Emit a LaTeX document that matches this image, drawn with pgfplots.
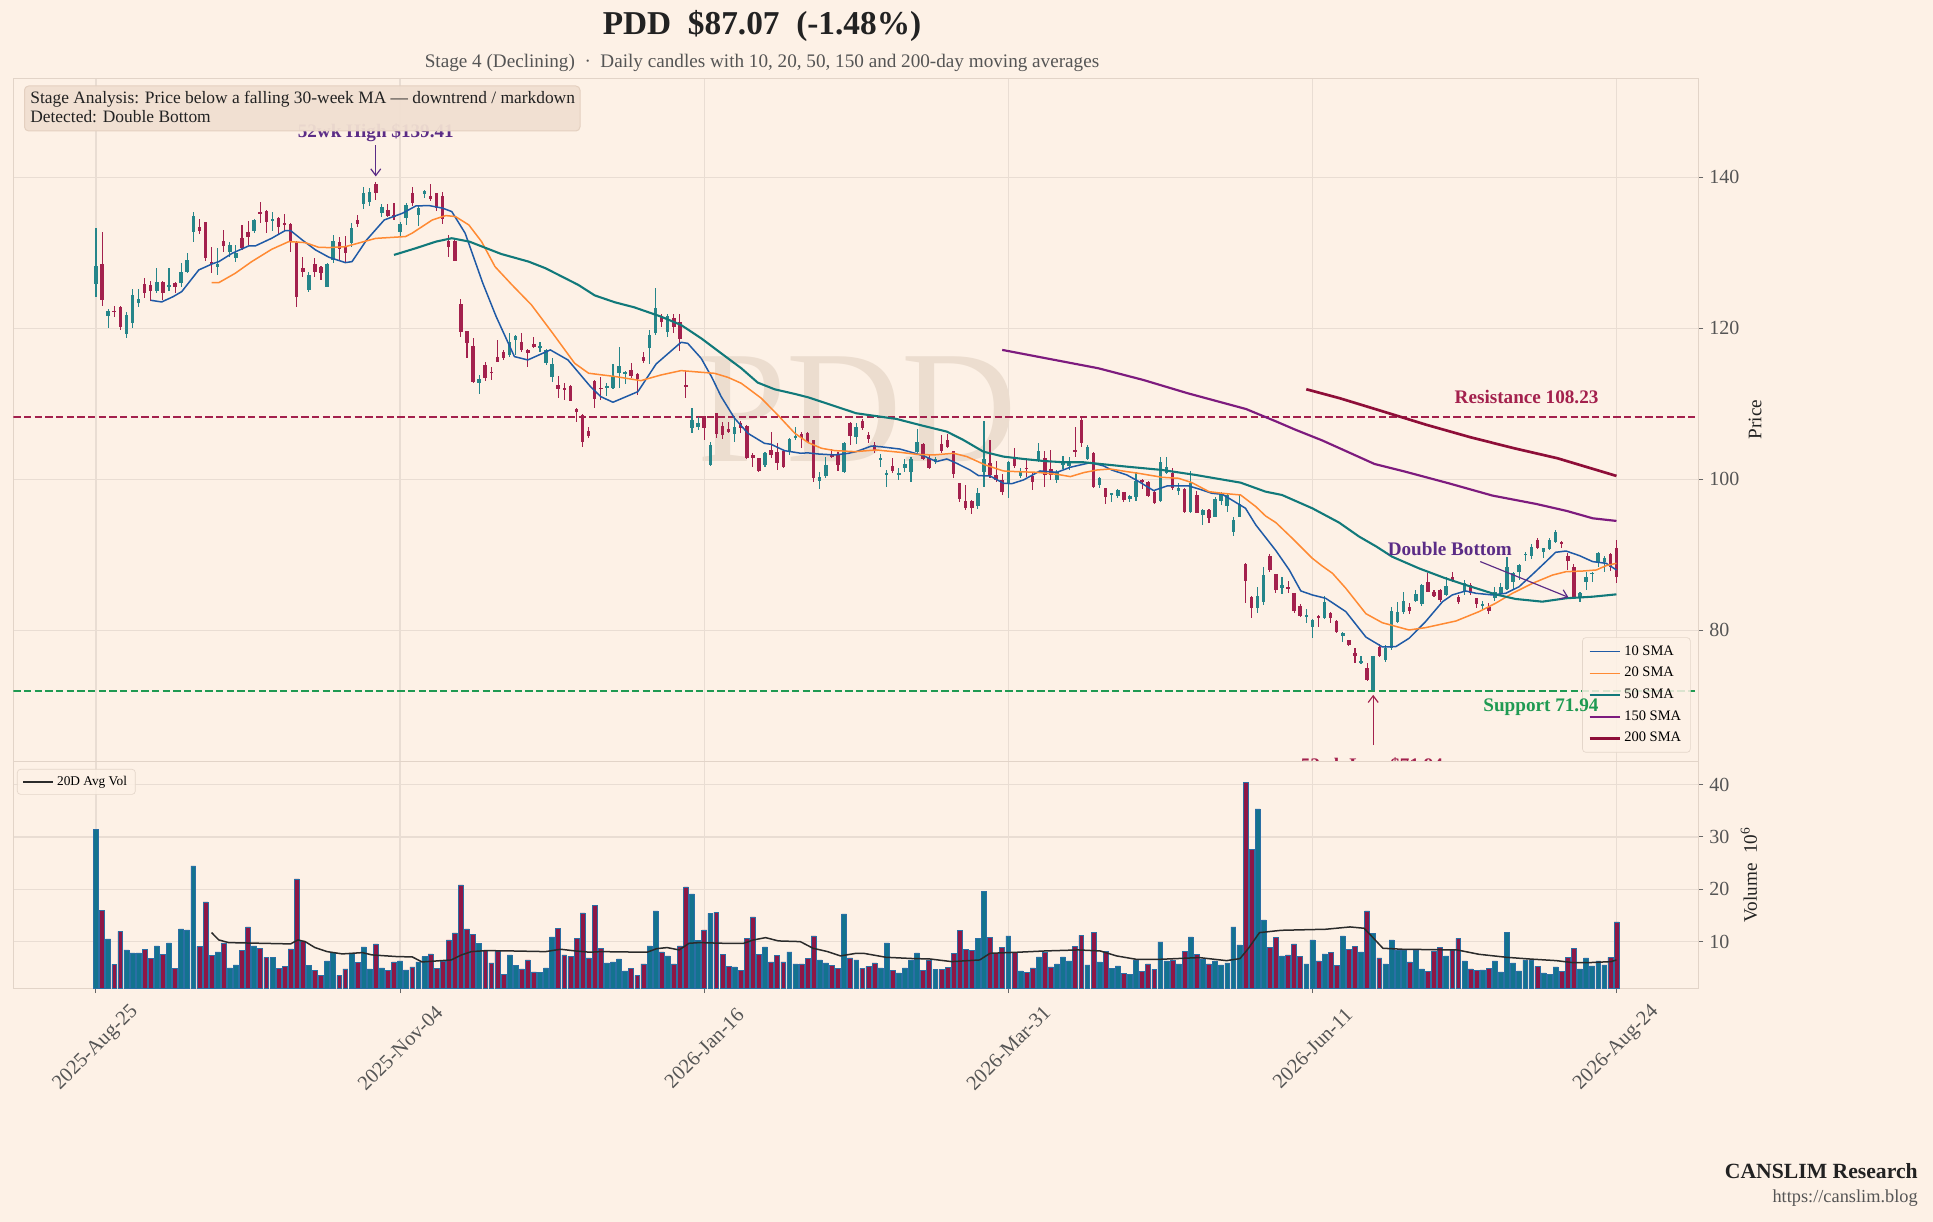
\documentclass[border=0pt]{standalone}
\usepackage{pgfplots}
\pgfplotsset{compat=1.18}
\usepackage{pgfplotstable}
\usepackage{fontspec}
\setmainfont{Liberation Serif}
\usetikzlibrary{arrows.meta}
\definecolor{bgc}{HTML}{FDF1E6}
\definecolor{gridc}{HTML}{E9DDD3}
\definecolor{spinec}{HTML}{E2D4C8}
\definecolor{tickc}{HTML}{666666}
\definecolor{tickl}{HTML}{555555}
\definecolor{upc}{HTML}{26868A}
\definecolor{dnc}{HTML}{A3214D}
\definecolor{vup}{HTML}{13738F}
\definecolor{vdn}{HTML}{8E1746}
\definecolor{vedge}{HTML}{2A6FA5}
\definecolor{s10}{HTML}{1F5AA6}
\definecolor{s20}{HTML}{FF8A33}
\definecolor{s50}{HTML}{11797A}
\definecolor{s150}{HTML}{7D1B7E}
\definecolor{s200}{HTML}{8E0E38}
\definecolor{resc}{HTML}{A3214D}
\definecolor{supc}{HTML}{1F9A52}
\definecolor{purp}{HTML}{5B2C86}
\definecolor{wmc}{HTML}{ECDDCF}
\definecolor{boxf}{HTML}{F1E0D1}
\definecolor{boxd}{HTML}{E4D0C0}
\definecolor{darkt}{HTML}{222222}
\definecolor{grayt}{HTML}{555555}
\definecolor{avgc}{HTML}{2B2B2B}
\definecolor{legc}{HTML}{E4D6CA}

\pgfplotstableread{
k o h l c v
0 125.80 133.24 124.19 128.25 31.50
1 128.50 132.80 123.00 123.75 16.00
2 121.67 122.50 120.00 122.33 10.52
3 122.30 123.00 121.50 122.20 5.68
4 122.86 123.00 119.80 120.20 11.98
5 119.30 122.10 118.75 121.80 8.42
6 120.75 125.16 120.00 124.40 7.85
7 123.40 125.16 122.80 123.90 7.85
8 125.87 126.60 123.97 124.63 8.55
9 125.73 126.20 123.65 124.98 6.83
10 124.98 127.94 124.63 126.09 9.18
11 126.13 126.20 123.75 124.63 7.59
12 125.60 127.94 124.94 125.70 9.76
13 126.00 126.13 124.70 125.40 4.92
14 126.04 128.60 125.50 127.41 12.43
15 127.45 129.90 127.28 129.05 12.24
16 132.80 135.36 131.47 134.87 24.45
17 133.42 134.43 132.44 132.90 9.12
18 134.08 134.10 128.96 129.27 17.58
19 128.78 130.72 127.28 128.50 7.40
20 128.16 130.60 127.06 128.50 8.04
21 131.56 133.00 130.15 130.90 9.76
22 130.06 131.47 129.49 131.03 4.98
23 129.35 131.03 128.82 129.93 5.56
24 131.92 133.68 130.37 130.59 8.36
25 132.75 134.25 130.99 132.14 12.81
26 132.93 134.43 132.58 134.34 9.18
27 135.40 136.77 133.90 135.18 8.74
28 135.54 135.60 132.58 134.12 7.02
29 134.30 135.36 132.93 134.40 7.02
30 134.60 134.78 132.36 133.46 4.92
31 133.90 135.14 133.02 133.80 5.30
32 133.81 133.99 130.15 131.47 8.61
33 131.47 131.50 122.86 124.19 21.97
34 128.03 129.49 126.75 127.50 10.14
35 125.07 127.50 124.85 127.06 5.49
36 128.47 129.27 126.84 127.50 4.54
37 128.16 128.20 126.40 127.28 3.59
38 125.51 128.60 125.50 128.51 6.32
39 129.05 132.36 128.60 131.56 7.98
40 131.47 132.14 129.05 130.46 3.59
41 130.72 132.20 128.82 130.02 4.79
42 131.25 134.00 130.80 133.24 7.72
43 134.34 134.96 133.37 133.80 6.07
44 136.46 138.67 135.76 137.88 8.99
45 136.77 138.54 136.20 138.10 4.79
46 139.11 139.41 136.99 137.96 9.57
47 135.30 136.46 134.70 136.00 4.98
48 135.67 136.46 134.70 134.80 4.54
49 135.00 136.64 134.35 134.80 6.13
50 132.80 134.10 132.14 133.80 6.32
51 134.56 136.64 133.68 136.33 4.60
52 137.88 138.76 136.20 136.64 5.17
53 135.00 136.20 133.55 135.90 6.13
54 137.75 138.25 137.20 138.20 7.15
55 137.50 139.11 136.90 137.08 7.66
56 137.88 137.97 135.58 135.89 4.92
57 137.52 138.10 133.80 134.43 6.20
58 131.60 132.36 129.40 130.80 10.33
59 131.60 131.70 128.90 128.96 11.66
60 123.20 123.84 118.90 119.55 20.83
61 119.64 119.70 116.00 118.00 12.43
62 117.66 118.67 112.71 112.84 11.35
63 112.71 113.80 111.30 113.28 9.63
64 115.14 115.58 113.02 113.37 8.29
65 114.20 114.92 113.15 114.10 5.94
66 116.15 118.50 115.50 115.58 8.10
67 116.90 117.10 115.80 116.00 3.78
68 116.47 119.40 116.15 118.20 7.47
69 118.45 119.10 116.47 118.98 5.43
70 118.23 119.40 116.90 117.13 4.79
71 117.13 117.20 114.83 116.68 6.51
72 117.92 118.90 117.35 117.57 4.22
73 117.35 118.23 116.90 117.66 4.16
74 115.45 117.20 115.14 117.13 4.98
75 113.50 116.00 112.93 115.27 10.90
76 112.49 113.68 110.70 111.92 12.55
77 112.00 112.71 110.50 111.90 7.47
78 112.36 112.50 110.30 110.40 7.21
79 109.26 109.40 107.60 108.96 10.65
80 108.50 108.60 104.30 104.98 15.48
81 106.44 106.97 105.43 105.74 6.89
82 113.06 113.10 109.40 110.59 16.94
83 112.10 113.60 110.50 112.00 8.74
84 112.20 112.70 110.96 112.30 5.94
85 112.13 115.27 111.90 113.50 6.13
86 114.12 117.48 112.05 115.00 6.70
87 113.90 114.34 112.62 114.20 4.41
88 114.47 115.45 113.37 113.68 4.92
89 113.94 114.03 111.16 113.24 3.59
90 116.15 116.90 115.36 115.67 5.75
91 117.34 119.77 115.27 119.11 9.18
92 119.42 125.30 119.11 122.64 15.86
93 121.63 121.90 120.21 120.88 8.04
94 119.55 121.85 118.90 121.63 7.28
95 121.32 121.90 119.33 120.13 5.75
96 120.88 121.90 117.03 118.54 9.18
97 112.40 114.40 110.72 112.30 20.44
98 106.84 109.48 106.08 107.85 19.11
99 106.97 108.20 106.53 107.50 10.27
100 108.38 108.40 105.20 106.75 12.24
101 101.89 104.98 101.80 104.54 15.42
102 108.73 108.82 105.42 105.95 15.61
103 107.06 107.63 105.30 105.90 7.59
104 106.60 107.60 106.18 106.30 5.30
105 106.00 108.07 104.98 106.97 5.17
106 107.40 107.70 106.10 106.75 4.54
107 107.06 107.20 102.70 102.77 10.65
108 103.20 103.50 101.67 102.77 14.72
109 102.77 102.80 101.00 101.05 7.59
110 101.89 103.66 101.67 103.44 8.99
111 103.88 106.30 102.77 103.20 6.13
112 103.66 104.76 101.23 102.11 7.40
113 103.75 103.80 101.50 101.58 6.13
114 103.66 105.42 103.20 105.30 8.04
115 105.60 106.97 105.20 105.70 5.75
116 105.99 106.30 104.10 105.42 5.75
117 106.17 106.30 104.76 104.98 6.83
118 105.20 105.25 99.68 100.13 11.09
119 99.82 101.00 98.67 100.26 6.51
120 100.43 102.90 100.13 101.89 5.94
121 103.35 103.97 102.77 102.90 5.49
122 103.20 103.66 101.14 101.89 4.92
123 101.00 104.98 100.88 104.85 15.29
124 107.50 107.63 104.54 105.73 6.89
125 105.56 107.41 104.67 106.97 6.51
126 107.72 107.94 106.53 106.75 4.92
127 105.86 106.30 104.76 105.29 5.30
128 104.54 104.98 103.44 103.88 5.94
129 102.56 103.30 101.67 102.86 4.99
130 100.57 101.23 99.02 100.88 9.76
131 101.76 102.78 100.79 101.10 4.54
132 100.57 101.45 99.90 100.88 4.03
133 101.54 102.69 100.92 102.03 4.99
134 101.01 103.00 99.70 102.69 6.51
135 103.57 106.66 103.44 104.98 7.85
136 104.67 104.76 102.56 102.69 4.54
137 102.78 103.30 101.36 101.54 6.51
138 102.33 103.00 101.98 102.69 4.73
139 104.67 105.87 103.44 103.75 4.73
140 105.20 105.96 104.10 104.32 5.11
141 103.75 103.80 100.22 100.66 7.78
142 99.47 99.50 96.95 97.39 12.17
143 97.13 99.25 95.93 96.16 8.55
144 97.13 97.26 95.36 96.24 8.36
145 96.50 98.80 96.02 98.23 10.65
146 100.92 107.72 99.02 102.69 19.62
147 102.11 105.20 100.22 100.57 10.84
148 100.57 102.42 99.60 99.90 7.78
149 99.90 100.66 97.92 98.37 8.93
150 99.47 102.42 97.57 102.24 11.09
151 102.64 104.10 101.54 101.76 7.91
152 100.48 101.54 100.22 101.00 4.41
153 101.50 102.78 100.35 101.40 4.16
154 100.48 100.92 98.58 99.60 4.99
155 102.42 104.76 102.33 103.75 7.09
156 102.86 103.75 99.02 100.57 7.98
157 101.36 103.88 99.90 100.57 5.18
158 99.90 101.23 99.47 100.92 5.75
159 101.89 103.13 101.36 102.33 7.09
160 101.76 103.00 101.23 102.42 6.32
161 103.88 106.88 103.00 103.66 9.12
162 107.85 108.16 104.32 104.76 11.22
163 102.69 104.54 102.56 104.23 5.56
164 103.44 103.57 98.80 99.03 11.79
165 99.30 100.35 98.80 100.13 6.13
166 98.80 98.85 96.68 97.70 8.10
167 98.00 98.14 97.04 98.10 4.92
168 97.83 98.65 97.57 98.58 5.37
169 98.27 98.36 96.95 97.26 3.97
170 97.35 97.92 97.04 97.79 3.78
171 97.61 101.01 97.17 99.82 6.51
172 99.90 99.99 98.67 99.70 4.35
173 99.69 99.75 97.61 97.79 5.75
174 98.36 98.58 96.68 96.82 4.73
175 97.17 103.00 97.00 102.30 9.95
176 100.80 102.90 100.70 101.60 6.32
177 100.79 101.45 98.58 98.80 6.51
178 98.50 99.47 97.92 98.80 5.75
179 98.67 98.80 95.49 95.71 8.17
180 95.71 101.14 95.58 99.55 10.90
181 97.92 98.49 95.49 95.58 7.59
182 95.27 96.00 93.95 95.93 6.70
183 95.93 96.00 94.17 94.83 5.75
184 95.05 97.61 94.96 97.35 6.32
185 97.17 98.36 96.60 98.05 5.56
186 96.46 98.14 95.71 97.92 5.94
187 93.06 95.05 92.49 94.61 12.81
188 95.05 97.92 94.96 96.73 9.37
189 88.78 88.85 83.66 86.57 40.42
190 84.45 84.50 81.59 82.99 27.63
191 82.99 85.78 82.33 84.54 35.33
192 83.79 88.34 83.35 87.32 14.15
193 89.84 90.11 87.77 87.99 8.93
194 87.46 87.50 84.90 85.34 10.84
195 85.56 87.10 84.81 86.00 7.28
196 85.70 86.57 84.98 85.50 7.47
197 84.90 84.98 82.25 82.60 9.57
198 83.26 83.48 81.81 81.89 7.21
199 81.85 82.78 81.01 81.95 5.75
200 80.48 81.45 78.94 81.36 10.33
201 81.89 82.03 80.48 81.58 6.32
202 81.58 84.54 81.45 83.79 7.66
203 82.33 82.40 80.92 81.58 7.98
204 81.28 81.30 79.60 79.82 5.49
205 79.29 79.82 78.49 79.60 11.09
206 78.72 78.75 77.92 78.05 8.55
207 77.04 77.60 75.71 76.60 9.12
208 75.80 76.60 75.53 75.90 8.04
209 74.96 75.71 73.33 73.40 15.86
210 72.09 76.65 71.94 76.60 11.54
211 77.80 78.20 76.50 76.65 6.89
212 76.07 78.00 75.80 77.60 5.75
213 77.60 83.13 77.40 82.56 10.33
214 81.06 83.70 80.92 82.38 8.36
215 82.38 85.03 82.11 83.88 8.36
216 83.13 83.57 82.11 82.56 6.13
217 83.88 85.34 83.70 84.76 8.42
218 83.44 86.09 83.26 86.00 4.79
219 86.35 87.54 85.03 85.12 4.35
220 85.03 85.34 84.45 84.59 8.23
221 85.34 85.47 83.70 84.01 8.93
222 84.68 87.10 84.59 85.91 7.28
223 87.00 87.76 86.44 86.66 8.36
224 84.45 84.68 83.44 83.70 10.65
225 85.03 86.66 84.68 86.22 6.32
226 86.00 86.22 84.68 84.90 4.79
227 84.23 84.32 83.00 83.44 4.48
228 83.30 83.88 82.82 83.40 4.60
229 83.13 83.57 82.11 82.56 4.92
230 84.23 85.78 83.88 85.03 6.32
231 84.76 86.22 84.59 85.78 4.22
232 85.47 89.75 85.34 88.43 11.79
233 86.44 87.68 85.34 87.54 5.94
234 87.68 88.74 86.66 88.65 4.41
235 90.00 90.33 89.18 90.10 6.51
236 89.88 91.39 89.44 91.08 6.51
237 91.96 92.18 90.77 90.95 5.30
238 90.33 90.95 89.53 90.86 4.03
239 90.77 92.18 90.64 91.96 3.78
240 91.65 93.29 91.52 93.06 5.18
241 91.74 91.83 90.86 91.39 4.35
242 89.88 90.20 87.98 89.18 7.02
243 88.43 88.74 84.23 84.32 8.74
244 84.32 85.03 83.70 84.90 4.79
245 86.44 87.68 85.34 87.10 6.89
246 87.50 87.76 86.44 87.60 5.37
247 89.09 90.33 88.43 90.20 6.32
248 89.09 89.88 87.76 89.62 5.56
249 90.06 90.20 87.85 88.38 7.02
250 90.86 91.96 86.22 87.07 13.76
}\candles

\pgfplotsset{
  every axis/.append style={
    scale only axis, width=1011.12pt,
    xmin=-13.58, xmax=263.5,
    xtick={0,50,100,150,200,250},
    grid=major, grid style={draw=gridc, line width=0.8pt},
    axis line style={draw=spinec, line width=0.7pt},
    tick align=outside, major tick length=2.9pt,
    ytick pos=right, yticklabel pos=right,
    y tick style={draw=tickc, line width=0.6pt},
    yticklabel style={font=\fontsize{12}{14}\selectfont, text=tickl},
    /pgf/number format/assume math mode=true,
    scaled ticks=false,
    clip=true,
  },
  wick/.style={forget plot, draw=none, mark=none,
    error bars/y dir=both, error bars/y explicit, error bars/error mark=none,
    error bars/error bar style={draw=#1, line width=0.65pt}},
  body/.style={forget plot, draw=none, mark=none,
    error bars/y dir=both, error bars/y explicit, error bars/error mark=none,
    error bars/error bar style={draw=#1, line width=2.1pt, line cap=butt}},
}

\begin{document}
\begin{tikzpicture}
\fill[bgc] (0,0) rectangle (1159.8pt,733.2pt);

% ---------------- price panel ----------------
\begin{axis}[
  at={(8.04pt,686.22pt)}, anchor=north west,
  height=410.04pt,
  ymin=62.6, ymax=153.1,
  ytick={80,100,120,140},
  xticklabels={}, x tick style={draw=none},
  legend style={at={(0.9953,0.0132)}, anchor=south east,
    font=\fontsize{8.7}{10}\selectfont, fill=bgc, fill opacity=0.85, text opacity=1,
    draw=legc, rounded corners=2pt, row sep=1.7pt, inner xsep=3.5pt, inner ysep=2.8pt,
    cells={anchor=west}},
  legend image code/.code={\draw[#1] (0pt,0pt) -- (18pt,0pt);},
]
\node[font=\fontsize{96}{96}\selectfont, text=wmc] at (axis cs:125.2,109.3) {PDD};

\addplot[forget plot, resc, line width=1.2pt, dash pattern=on 4.4pt off 2pt]
  coordinates {(-13.58,108.23) (263.5,108.23)};
\addplot[forget plot, supc, line width=1.2pt, dash pattern=on 4.4pt off 2pt]
  coordinates {(-13.58,71.94) (263.5,71.94)};

% wicks
\addplot[restrict expr to domain={\thisrow{c}-\thisrow{o}}{0:1000}, wick=upc]
  table[x=k, y expr={0.5*(\thisrow{h}+\thisrow{l})},
        y error plus expr={0.5*(\thisrow{h}-\thisrow{l})},
        y error minus expr={0.5*(\thisrow{h}-\thisrow{l})}] {\candles};
\addplot[restrict expr to domain={\thisrow{c}-\thisrow{o}}{-1000:-0.000001}, wick=dnc]
  table[x=k, y expr={0.5*(\thisrow{h}+\thisrow{l})},
        y error plus expr={0.5*(\thisrow{h}-\thisrow{l})},
        y error minus expr={0.5*(\thisrow{h}-\thisrow{l})}] {\candles};
% bodies
\addplot[restrict expr to domain={\thisrow{c}-\thisrow{o}}{0:1000}, body=upc]
  table[x=k, y expr={0.5*(\thisrow{o}+\thisrow{c})},
        y error plus expr={max(0.5*abs(\thisrow{c}-\thisrow{o}),0.07)},
        y error minus expr={max(0.5*abs(\thisrow{c}-\thisrow{o}),0.07)}] {\candles};
\addplot[restrict expr to domain={\thisrow{c}-\thisrow{o}}{-1000:-0.000001}, body=dnc]
  table[x=k, y expr={0.5*(\thisrow{o}+\thisrow{c})},
        y error plus expr={max(0.5*abs(\thisrow{c}-\thisrow{o}),0.07)},
        y error minus expr={max(0.5*abs(\thisrow{c}-\thisrow{o}),0.07)}] {\candles};

% moving averages
\addplot[s10, line width=0.9pt, line join=round] coordinates {
(9,123.7) (10.8,123.48) (12.7,124.19) (14.1,124.85) (16.9,127.72) (19.1,128.52) (20.2,128.82)
(22.4,129.93) (25.1,130.9) (26.2,130.9) (28.9,131.92) (31.1,132.93) (32,132.93) (33.9,131.7)
(36.1,130.37) (38.3,129.4) (41,128.69) (42.1,128.82) (44.5,131.7) (47.4,134.34) (50.4,135.23)
(52.6,136.2) (54.8,136.24) (57,135.9) (58.5,135.45) (60.7,132.58) (63.6,125.96) (65.8,121.54)
(68.8,116.24) (71,115.8) (74.7,117.13) (77.6,115.8) (81.3,112.27) (83,110.94) (85,110.2)
(89.1,111.6) (92.1,115.27) (96.2,118.14) (97.3,118.0) (99.5,116.02) (101.2,113.59) (102.8,110.94)
(105,108.07) (107.2,106.08) (109.9,104.76) (111,104.63) (113.2,103.79) (115.9,103.44) (117,103.5)
(118.7,103.35) (121.5,103.22) (123.7,103.44) (125,103.66) (127.5,104.4) (128.9,104.32) (132.2,104.0)
(136,103.13) (138.2,102.34) (139.9,102.69) (141.5,102.12) (143.7,101.23) (145.1,100.48) (147,100.44)
(149.2,99.47) (150.6,99.42) (152.5,99.91) (155.2,101.1) (158,100.92) (160.2,101.59) (163.5,102.2)
(165.7,101.76) (167,101.23) (169.5,100.57) (171.2,99.82) (173.9,98.5) (176.1,99.11) (179.7,99.11)
(181.3,98.72) (183.5,98.14) (185.2,98.01) (189,96.16) (190.7,93.95) (194,90.55) (196.2,87.99)
(198.1,85.21) (200,84.68) (202.2,84.23) (205.5,82.47) (208.8,79.1) (211.5,77.8) (213.7,77.83)
(215.9,78.94) (218.6,81.14) (221.4,83.79) (223,84.68) (225.2,85.21) (226.9,84.9) (229.6,84.68)
(231.8,84.9) (234,85.78) (236.2,87.41) (238.4,89.09) (240,90.33) (241.7,90.5) (243.9,89.89)
(246.1,89.09) (248.3,88.87) (250,87.99)};
\addlegendentry{10 SMA}
\addplot[s20, line width=0.9pt, line join=round] coordinates {
(19,126.04) (20.2,126.04) (22.9,127.28) (25.6,128.82) (28.9,130.46) (31.7,131.47) (34.4,131.34)
(36.6,130.72) (38.3,130.68) (41,130.8) (46,131.9) (50.9,132.14) (52,132.6) (55.3,134.34)
(57.5,134.92) (59.1,134.79) (61.3,133.68) (63.4,131.47) (65.6,128.16) (68.4,125.74) (71.6,123.09)
(74.9,119.55) (78.7,115.36) (81,114.04) (85.4,113.6) (89.6,113.06) (92.9,113.81) (96.2,114.39)
(99.5,114.17) (101.7,114.03) (103.9,113.5) (106.1,112.71) (109.4,110.72) (112.1,108.51) (114.9,106.09)
(117.1,104.85) (119.3,104.1) (121.5,103.79) (124.8,103.66) (128.3,103.88) (132.2,103.57) (134.9,103.3)
(137.7,103.22) (141,103.44) (143.2,103.0) (146.2,101.9) (149.2,101.1) (151.4,101.01) (154.7,100.92)
(158,100.66) (160.2,100.35) (162.4,100.88) (164.6,101.23) (166.8,101.36) (169.5,101.01) (171.4,100.79)
(175.3,100.26) (178,100.13) (180.2,99.55) (183,98.36) (185.2,98.14) (188.2,97.92) (190.7,96.38)
(192.3,95.14) (194,94.26) (196.7,92.18) (200,89.53) (201.6,88.52) (203.3,87.55) (205.5,85.56)
(208.8,82.2) (211.5,81.0) (215.9,80.04) (218.6,80.35) (223.6,81.23) (227.4,82.47) (230.1,83.57)
(232.9,84.9) (236.2,86.22) (239.5,87.32) (241.7,87.76) (244.5,87.85) (246.7,87.99) (248.3,88.56)
(250,88.87)};
\addlegendentry{20 SMA}
\addplot[s50, line width=1.25pt, line join=round] coordinates {
(49,129.71) (52.6,130.6) (55.9,131.47) (58.5,131.92) (61.4,131.47) (66.6,129.84) (71.1,128.83)
(73.9,127.95) (79.3,125.74) (82,124.35) (85.3,123.44) (88.5,122.77) (92.9,121.54) (96.2,120.43)
(99.5,118.67) (102.8,116.68) (106.1,114.7) (108.8,112.8) (111.6,111.91) (114.9,111.3) (117.1,110.85)
(120.4,109.97) (123.7,109.09) (125,108.74) (131.6,107.99) (135.9,107.1) (139.9,106.31) (142.6,105.21)
(145.9,103.66) (149.2,103.0) (152.5,102.69) (155.8,102.42) (159.1,102.25) (162.4,102.25) (165.7,101.98)
(169.5,101.67) (175.3,101.23) (180.8,100.57) (188.2,99.55) (192.3,98.36) (195,97.92) (200,96.15)
(204.4,94.26) (207.7,92.4) (210.5,91.1) (213.1,89.75) (217.5,88.21) (221.9,86.88) (225.2,86.0)
(230.1,84.76) (233.4,84.15) (237.8,83.79) (241.7,84.24) (246.1,84.45) (250,84.76)};
\addlegendentry{50 SMA}
\addplot[s150, line width=1.3pt, line join=round] coordinates {
(149,117.13) (164.8,114.7) (172.2,113.15) (179.5,111.39) (189.1,109.3) (194.2,107.6) (197.3,106.53)
(201.6,105.15) (204.5,104.1) (210.2,102.03) (215.2,101.02) (222.4,99.47) (229.6,97.84) (236.8,96.73)
(241.8,95.81) (246.1,94.83) (250,94.48)};
\addlegendentry{150 SMA}
\addplot[s200, line width=1.6pt, line join=round] coordinates {
(199,111.92) (204.5,110.73) (211.7,108.96) (218.8,107.2) (226,105.56) (233.2,104.1) (240.3,102.78)
(250,100.44)};
\addlegendentry{200 SMA}

% annotations
\node[font=\fontsize{11.5}{13}\selectfont\bfseries, text=resc, anchor=east] at (axis cs:248,110.86) {Resistance 108.23};
\coordinate (suplab) at (axis cs:248,69.8);
\node[font=\fontsize{11.5}{13}\selectfont\bfseries, text=purp] at (axis cs:46,145.85) {52wk High \$139.41};
\draw[purp, line width=0.7pt, -{Straight Barb[length=4pt,width=6pt]}] (axis cs:46,144.2) -- (axis cs:46,140.1);
\node[font=\fontsize{11.5}{13}\selectfont\bfseries, text=resc, anchor=north] at (axis cs:209.8,63.95) {52wk Low \$71.94};
\draw[resc, line width=0.7pt, -{Straight Barb[length=4pt,width=6pt]}] (axis cs:210,64.8) -- (axis cs:210,71.45);
\node[font=\fontsize{11.5}{13}\selectfont\bfseries, text=purp] at (axis cs:222.6,90.73) {Double Bottom};
\draw[purp, line width=0.7pt, -{Straight Barb[length=4pt,width=6pt]}] (axis cs:227.6,89.1) -- (axis cs:242.1,84.37);
\end{axis}
\node[font=\fontsize{11.5}{13}\selectfont\bfseries, text=supc, anchor=east] at (suplab) {Support 71.94};

% ---------------- volume panel ----------------
\begin{axis}[
  at={(8.04pt,276.18pt)}, anchor=north west,
  height=135.96pt,
  ymin=1.1, ymax=44.35,
  ytick={10,20,30,40},
  axis background/.style={fill=bgc},
  xtick pos=bottom,
  x tick style={draw=tickc, line width=0.6pt},
  xticklabels={2025-Aug-25,2025-Nov-04,2026-Jan-16,2026-Mar-31,2026-Jun-11,2026-Aug-24},
  xticklabel style={yshift=-33pt, rotate=45, anchor=center, font=\fontsize{12.3}{14}\selectfont, text=tickl, inner sep=0pt},
  legend style={at={(0.0021,0.9678)}, anchor=north west,
    font=\fontsize{8}{9.5}\selectfont, fill=bgc, fill opacity=0.85, text opacity=1,
    draw=legc, rounded corners=2pt, inner xsep=3pt, inner ysep=2pt, cells={anchor=west}},
  legend image code/.code={\draw[#1] (0pt,0pt) -- (18pt,0pt);},
]
\addplot[forget plot, ybar, bar width=0.8, fill=vup, draw=vedge, line width=0.35pt,
  restrict expr to domain={\thisrow{c}-\thisrow{o}}{0:1000}] table[x=k, y=v] {\candles};
\addplot[forget plot, ybar, bar width=0.8, fill=vdn, draw=vedge, line width=0.35pt,
  restrict expr to domain={\thisrow{c}-\thisrow{o}}{-1000:-0.000001}] table[x=k, y=v] {\candles};
\addplot[avgc, line width=0.9pt, line join=round] coordinates {
(19,11.73) (20.2,10.33) (21.8,9.82) (32,9.57) (33.2,10.33) (34.4,10.0) (36,8.87) (38,8.1)
(40.5,7.66) (43.8,7.91) (45.4,7.47) (49.5,7.15) (52,7.09) (53.6,6.13) (56,6.32) (58.4,6.51)
(60.1,7.47) (61.7,8.1) (64.1,8.29) (68.2,8.23) (73.9,8.1) (76.4,8.55) (78.8,8.23) (81.2,7.98)
(82.9,8.1) (90.6,7.98) (92.2,8.67) (93.9,8.87) (95.9,8.42) (97.5,9.69) (99.2,9.82) (103.2,9.69)
(106.5,9.69) (108.1,10.33) (110.1,10.77) (112.2,10.14) (115.8,10.01) (117.9,8.74) (120.3,8.1)
(122.4,7.28) (125,7.78) (126.2,7.78) (129.9,7.02) (134.4,6.77) (137.1,6.70) (140.7,6.19)
(145.3,6.51) (147,7.78) (151.5,7.98) (156.1,8.23) (161.5,8.42) (165.1,8.23) (167.8,7.28)
(171,6.64) (175.1,6.64) (181.4,6.96) (185.9,6.38) (188.1,6.77) (189.5,8.74) (191.3,11.73)
(194.9,12.17) (202.2,12.37) (206.2,12.81) (208.5,12.56) (209.8,10.97) (211.6,8.74) (214.8,8.55)
(223.8,8.42) (227.4,7.59) (231.9,7.02) (235.6,6.70) (240.1,6.38) (242.8,6.00) (245.5,6.00)
(249.1,6.19) (250,6.51)};
\addlegendentry{20D Avg Vol}
\end{axis}

% ---------------- texts ----------------
\node[font=\fontsize{20}{24}\selectfont\bfseries, text=darkt] at (457.2pt,717.4pt) {PDD\ \ \$87.07\ \ (-1.48\%)};
\node[font=\fontsize{11.5}{13}\selectfont, text=grayt] at (457.2pt,695.5pt) {Stage 4 (Declining)\ \ ·\ \ Daily candles with 10, 20, 50, 150 and 200-day moving averages};

\draw[boxd, fill=boxf, fill opacity=0.95, rounded corners=2.5pt, line width=0.6pt] (14.7pt,654.6pt) rectangle (348pt,681.6pt);
\node[font=\fontsize{10.45}{12}\selectfont, text=darkt, anchor=west, inner sep=0pt] at (18pt,673.6pt) {Stage Analysis: Price below a falling 30-week MA — downtrend / markdown};
\node[font=\fontsize{10.45}{12}\selectfont, text=darkt, anchor=west, inner sep=0pt] at (18pt,663.2pt) {Detected: Double Bottom};

\node[font=\fontsize{11.5}{13}\selectfont, text=darkt, rotate=90] at (1053pt,481.44pt) {Price};
\node[font=\fontsize{11.5}{13}\selectfont, text=darkt, rotate=90] at (1049.4pt,208.2pt) {Volume\ \ 10\textsuperscript{6}};

\node[font=\fontsize{13}{15}\selectfont\bfseries, text=darkt, anchor=east, inner sep=0pt] at (1150.8pt,30.6pt) {CANSLIM Research};
\node[font=\fontsize{11}{13}\selectfont, text=grayt, anchor=east, inner sep=0pt] at (1150.8pt,14.4pt) {https://canslim.blog};
\end{tikzpicture}
\end{document}
